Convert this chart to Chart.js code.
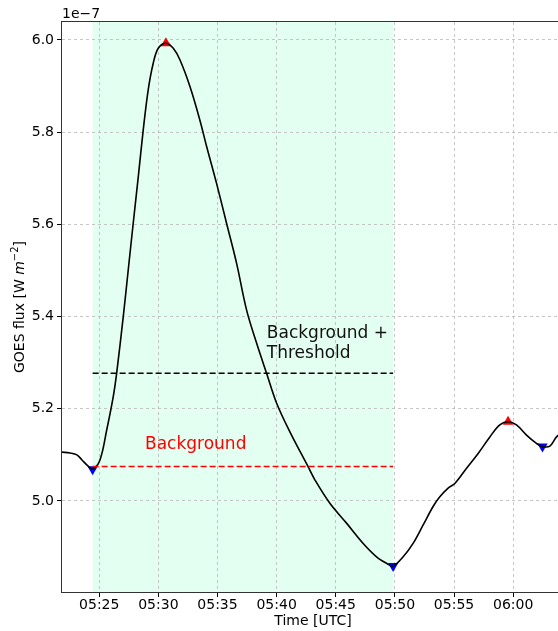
<!DOCTYPE html>
<html>
<head>
<meta charset="utf-8">
<script src="https://cdn.jsdelivr.net/npm/chart.js@4.4.1/dist/chart.umd.min.js"></script>
<style>
  html, body { margin: 0; padding: 0; background: #fff; overflow: hidden; }
  canvas { display: block; }
</style>
</head>
<body>
<canvas id="goes-chart" width="580" height="631"></canvas>
<script>
// time in minutes after 05:00 UTC, flux in units of 1e-7 W m^-2
var timeMin = [21.85, 22.52, 23.11, 23.54, 24.04, 24.44, 25.06, 25.63, 26.18, 26.47,
    27.03, 27.45, 27.87, 28.30, 28.72, 29.14, 29.56, 29.99, 30.64, 31.26,
    31.82, 32.67, 33.51, 34.08, 34.92, 35.77, 36.61, 37.46, 38.31, 39.15,
    40.00, 41.12, 42.67, 43.23, 44.50, 45.91, 47.32, 48.45, 49.29, 49.85,
    50.70, 51.54, 52.39, 53.23, 53.80, 54.50, 55.07, 56.06, 57.04, 58.03,
    58.87, 59.57, 60.28, 61.13, 61.97, 62.48, 63.10, 63.67, 64.30];
var flux = [5.106, 5.104, 5.100, 5.089, 5.076, 5.069, 5.089, 5.154, 5.226, 5.277,
    5.400, 5.501, 5.602, 5.703, 5.805, 5.892, 5.949, 5.982, 5.993, 5.982,
    5.957, 5.899, 5.826, 5.769, 5.689, 5.602, 5.516, 5.414, 5.342, 5.277,
    5.212, 5.150, 5.074, 5.046, 4.995, 4.952, 4.908, 4.879, 4.865, 4.859,
    4.879, 4.908, 4.948, 4.988, 5.009, 5.028, 5.038, 5.071, 5.103, 5.139,
    5.165, 5.172, 5.165, 5.143, 5.125, 5.118, 5.119, 5.139, 5.152];

var peakTimes = [30.64, 59.57];
var peakFlux = [5.993, 5.172];
var minTimes = [24.44, 49.85, 62.48];
var minFlux = [5.069, 4.859, 5.118];

var flareStart = 24.44;
var flareEnd = 49.85;
var backgroundLevel = 5.075;
var thresholdLevel = 5.277;

var xTicks = [25, 30, 35, 40, 45, 50, 55, 60];
var yTicks = [5.0, 5.2, 5.4, 5.6, 5.8, 6.0];
var xRange = [21.85, 64.3];
var yRange = [4.8026, 6.039];

var FONT = "'DejaVu Sans', sans-serif";

function toPoints(xs, ys) {
    return xs.map(function (x, i) { return { x: x, y: ys[i] }; });
}

function clockLabel(m) {
    var h = 5 + Math.floor(m / 60);
    var mm = Math.round(m % 60);
    return (h < 10 ? '0' : '') + h + ':' + (mm < 10 ? '0' : '') + mm;
}

// green shaded flare interval, under the grid
var spanPlugin = {
    id: 'span',
    beforeDraw: function (chart) {
        var ctx = chart.ctx, a = chart.chartArea;
        var x0 = chart.scales.x.getPixelForValue(flareStart);
        var x1 = chart.scales.x.getPixelForValue(flareEnd);
        ctx.save();
        ctx.fillStyle = 'rgba(0, 255, 127, 0.11)';
        ctx.fillRect(x0, a.top, x1 - x0, a.bottom - a.top);
        ctx.restore();
    }
};

// spines, texts, offset label, y title
var extrasPlugin = {
    id: 'extras',
    afterDraw: function (chart) {
        var ctx = chart.ctx, a = chart.chartArea;
        var xs = chart.scales.x, ys = chart.scales.y;
        ctx.save();
        ctx.strokeStyle = '#333';
        ctx.lineWidth = 1;
        ctx.strokeRect(Math.round(a.left) - 0.5, Math.round(a.top) - 0.5,
            Math.round(a.right - a.left) + 1, Math.round(a.bottom - a.top) + 1);

        ctx.textBaseline = 'middle';
        ctx.textAlign = 'left';
        ctx.font = '17px ' + FONT;
        ctx.fillStyle = '#ff0000';
        ctx.fillText('Background', xs.getPixelForValue(28.87), ys.getPixelForValue(5.122));
        ctx.fillStyle = '#111';
        ctx.fillText('Background +', xs.getPixelForValue(39.17), ys.getPixelForValue(5.364));
        ctx.fillText('Threshold', xs.getPixelForValue(39.17), ys.getPixelForValue(5.319));

        ctx.font = '14px ' + FONT;
        ctx.fillStyle = '#000';
        ctx.textBaseline = 'alphabetic';
        ctx.fillText('1e\u22127', a.left, 18);

        // y axis title with italic m and superscript
        ctx.translate(20, (a.top + a.bottom) / 2);
        ctx.rotate(-Math.PI / 2);
        ctx.textBaseline = 'middle';
        var parts = [
            { t: 'GOES flux [W ', f: '14px ' + FONT, dy: 0 },
            { t: 'm', f: 'italic 14px ' + FONT, dy: 0 },
            { t: '\u22122', f: '10px ' + FONT, dy: -5 },
            { t: ']', f: '14px ' + FONT, dy: 0 }
        ];
        var total = 0;
        parts.forEach(function (p) { ctx.font = p.f; total += ctx.measureText(p.t).width; });
        var x = -total / 2;
        parts.forEach(function (p) {
            ctx.font = p.f;
            ctx.fillText(p.t, x, p.dy);
            x += ctx.measureText(p.t).width;
        });
        ctx.restore();
    }
};

function drawChart() {
    new Chart(document.getElementById('goes-chart'), {
        type: 'scatter',
        data: {
            datasets: [
                {
                    type: 'line',
                    data: [{ x: flareStart, y: thresholdLevel }, { x: flareEnd, y: thresholdLevel }],
                    borderColor: '#000',
                    borderWidth: 1.5,
                    borderDash: [6, 3],
                    pointRadius: 0
                },
                {
                    type: 'line',
                    data: [{ x: flareStart, y: backgroundLevel }, { x: flareEnd, y: backgroundLevel }],
                    borderColor: '#ff0000',
                    borderWidth: 1.5,
                    borderDash: [6, 3],
                    pointRadius: 0
                },
                {
                    type: 'line',
                    data: toPoints(timeMin, flux),
                    borderColor: '#000',
                    borderWidth: 1.6,
                    pointRadius: 0,
                    tension: 0.35,
                    fill: false
                },
                {
                    data: toPoints(peakTimes, peakFlux),
                    pointStyle: 'triangle',
                    pointRadius: 6,
                    backgroundColor: '#ff0000',
                    borderColor: '#ff0000',
                    borderWidth: 0
                },
                {
                    data: toPoints(minTimes, minFlux),
                    pointStyle: 'triangle',
                    pointRotation: 180,
                    pointRadius: 6,
                    backgroundColor: '#0000ff',
                    borderColor: '#0000ff',
                    borderWidth: 0
                }
            ]
        },
        options: {
            responsive: false,
            animation: false,
            layout: { padding: { top: 22, right: 16, left: 0, bottom: 0 } },
            plugins: { legend: { display: false }, tooltip: { enabled: false } },
            scales: {
                x: {
                    type: 'linear',
                    min: xRange[0],
                    max: xRange[1],
                    afterBuildTicks: function (scale) {
                        scale.ticks = xTicks.map(function (v) { return { value: v }; });
                    },
                    afterFit: function (scale) { scale.height = 39; },
                    ticks: {
                        color: '#000',
                        font: { family: FONT, size: 14 },
                        padding: 0,
                        maxRotation: 0,
                        callback: function (v) { return clockLabel(v); }
                    },
                    grid: {
                        color: '#b8b8b8',
                        lineWidth: 0.8,
                        tickLength: 5,
                        tickColor: '#000',
                        tickWidth: 1
                    },
                    border: { display: false, dash: [3, 3] },
                    title: {
                        display: true,
                        text: 'Time [UTC]',
                        color: '#000',
                        font: { family: FONT, size: 14 },
                        padding: { top: 0, bottom: 1 }
                    }
                },
                y: {
                    type: 'linear',
                    min: yRange[0],
                    max: yRange[1],
                    afterBuildTicks: function (scale) {
                        scale.ticks = yTicks.map(function (v) { return { value: v }; });
                    },
                    afterFit: function (scale) { scale.width = 62; },
                    ticks: {
                        color: '#000',
                        font: { family: FONT, size: 14 },
                        padding: 3,
                        callback: function (v) { return v.toFixed(1); }
                    },
                    grid: {
                        color: '#b8b8b8',
                        lineWidth: 0.8,
                        tickLength: 5,
                        tickColor: '#000',
                        tickWidth: 1
                    },
                    border: { display: false, dash: [3, 3] }
                }
            }
        },
        plugins: [spanPlugin, extrasPlugin]
    });
}

drawChart();
</script>
</body>
</html>
